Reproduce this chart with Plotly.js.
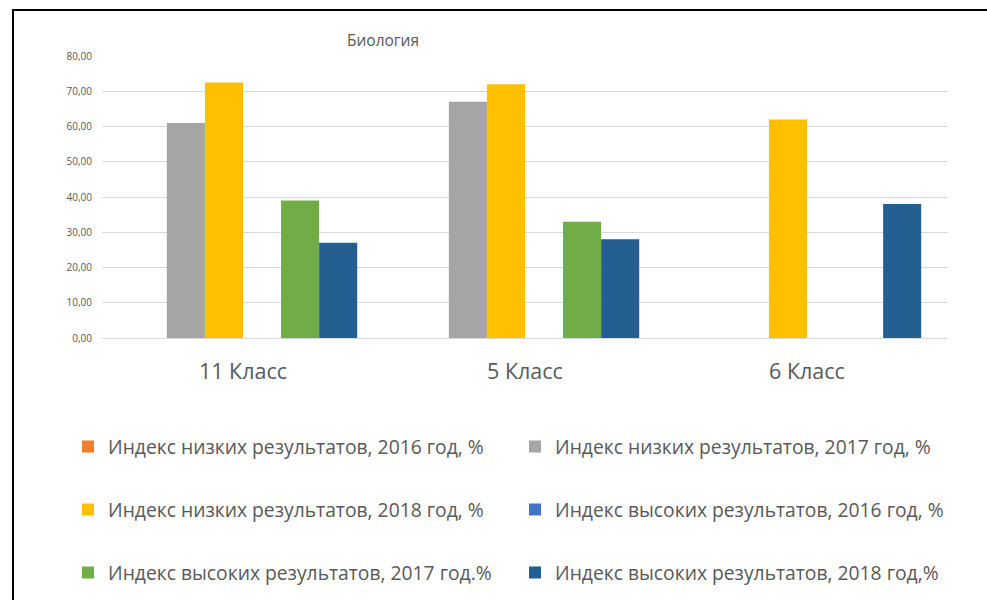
<!DOCTYPE html>
<html><head><meta charset="utf-8">
<script src="https://cdn.plot.ly/plotly-3.0.1.min.js"></script>
<style>html,body{margin:0;padding:0;background:#fff;overflow:hidden}
#wrap{position:relative;width:987px;height:600px;overflow:hidden}
#chart{width:987px;height:600px}
#frame{position:absolute;left:12px;top:9px;width:1000px;height:700px;border-left:2.5px solid #000;border-top:2.5px solid #000;pointer-events:none}
</style>
</head><body><div id="wrap"><div id="chart"></div><div id="frame"></div></div>
<script>
const categories = ['11 Класс', '5 Класс', '6 Класс'];
const seriesNames = [
  'Индекс низких результатов, 2016 год, %',
  'Индекс низких результатов, 2017 год, %',
  'Индекс низких результатов, 2018 год, %',
  'Индекс высоких результатов, 2016 год, %',
  'Индекс высоких результатов, 2017 год.%',
  'Индекс высоких результатов, 2018 год,%'
];
const low2016 = [null, null, null];
const low2017 = [61, 67, null];
const low2018 = [72.5, 72, 62];
const high2016 = [null, null, null];
const high2017 = [39, 33, null];
const high2018 = [27, 28, 38];
const seriesValues = [low2016, low2017, low2018, high2016, high2017, high2018];
const colors = ['#ED7D31', '#A5A5A5', '#FFC000', '#4472C4', '#70AD47', '#255E91'];
const yTicks = [0, 10, 20, 30, 40, 50, 60, 70, 80];

const FONT = '"Open Sans", Lato, sans-serif';
const legendNames = ['legend', 'legend2', 'legend3', 'legend4', 'legend5', 'legend6'];

const traces = seriesValues.map((vals, i) => ({
  type: 'bar', x: categories, y: vals, name: seriesNames[i],
  marker: {color: colors[i]}, legend: legendNames[i], hoverinfo: 'skip'
}));

// plot area: x 102..948, y 56..338
const L = 102, R = 948, T = 56, B = 338, W = 987, H = 600;
const px2x = p => (p - L) / (R - L);
const px2y = p => (B - p) / (B - T);

const layout = {
  width: W, height: H,
  margin: {l: L, r: W - R, t: T, b: H - B, pad: 0, autoexpand: false},
  paper_bgcolor: '#fff', plot_bgcolor: '#fff',
  separators: ', ',
  font: {family: FONT, color: '#595959'},
  title: {text: 'Биология', x: 383 / W, xanchor: 'center', y: 1 - 41 / H, yanchor: 'middle',
          font: {size: 15.5, color: '#595959', family: FONT}},
  barmode: 'group', bargap: 0.19, bargroupgap: 0,
  xaxis: {showgrid: false, showline: false, zeroline: false, ticks: '', automargin: false,
          tickfont: {size: 21.5, color: '#595959', family: FONT}, ticklabelstandoff: 18, fixedrange: true},
  yaxis: {range: [0, 80], tickvals: yTicks, tickformat: '.2f', showgrid: true, gridcolor: '#d9d9d9',
          gridwidth: 1, zeroline: true, zerolinecolor: '#d9d9d9', zerolinewidth: 1, showline: false, automargin: false,
          ticks: '', tickfont: {size: 10, color: '#595959', family: FONT}, ticklabelstandoff: 9, fixedrange: true},
  showlegend: true
};
const legPos = [[68, 447], [515, 447], [68, 510], [515, 510], [68, 573], [515, 573]];
legendNames.forEach((ln, i) => {
  layout[ln] = {x: px2x(legPos[i][0]), xanchor: 'left', y: px2y(legPos[i][1]), yanchor: 'middle',
    orientation: 'h', bgcolor: 'rgba(0,0,0,0)', borderwidth: 0,
    font: {size: 19.3, color: '#595959', family: FONT}};
});
Plotly.newPlot('chart', traces, layout, {displayModeBar: false, staticPlot: true});
</script></body></html>
